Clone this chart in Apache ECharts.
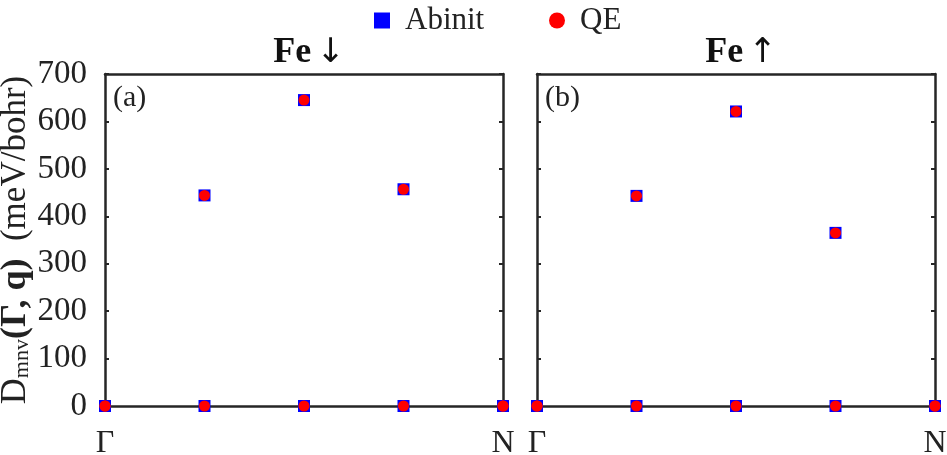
<!DOCTYPE html>
<html>
<head>
<meta charset="utf-8">
<script src="https://cdn.jsdelivr.net/npm/echarts@6/dist/echarts.min.js"></script>
<style>html,body{margin:0;padding:0;background:#fff;}#c{width:947px;height:455px;}</style>
</head>
<body>
<div id="c"></div>
<script>
// ---- data ----
const xTickLabels = { 0: 'Γ', 4: 'N' };
const qPoints = [0, 1, 2, 3, 4];
const abinitDown = [0, 444, 645, 457, 0];
const qeDown     = [0, 444, 645, 457, 0];
const abinitUp   = [0, 443, 621, 365, 0];
const qeUp       = [0, 443, 621, 365, 0];
const zeroLine   = [0, 0, 0, 0, 0];
const panelTitles = ['Fe ↓', 'Fe ↑'];
const panelTags = ['(a)', '(b)'];

function pts(ys) { return qPoints.map((x, i) => [x, ys[i]]); }

const FONT = 'Liberation Serif';
const AX = '#262626';
const grids = [
  { left: 105, top: 74, width: 398, height: 332 },
  { left: 537, top: 74, width: 398, height: 332 }
];

const xAxes = [], yAxes = [], series = [], titles = [];
grids.forEach((g, gi) => {
  xAxes.push({
    type: 'value', gridIndex: gi, min: 0, max: 4, interval: 4,
    axisLine: { show: true, onZero: false, lineStyle: { color: AX, width: 2.5 } },
    axisTick: { show: false },
    splitLine: { show: false },
    axisLabel: { margin: 22, fontFamily: FONT, fontSize: 32, color: '#222',
      formatter: v => xTickLabels[v] || '' }
  });
  xAxes.push({
    type: 'value', gridIndex: gi, position: 'top', min: 0, max: 4,
    axisLine: { show: true, onZero: false, lineStyle: { color: AX, width: 2.5 } },
    axisTick: { show: false }, axisLabel: { show: false }, splitLine: { show: false }
  });
  ['left', 'right'].forEach(pos => {
    const showLab = gi === 0 && pos === 'left';
    yAxes.push({
      type: 'value', gridIndex: gi, position: pos, min: 0, max: 700, interval: 100,
      axisLine: { show: true, onZero: false, lineStyle: { color: AX, width: 2.5 } },
      axisTick: { show: true, inside: true, length: 4, lineStyle: { color: AX, width: 2 } },
      splitLine: { show: false },
      axisLabel: { show: showLab, margin: 18, fontFamily: FONT, fontSize: 33, color: '#222' },
      name: showLab ? '{d|D}{s|mnv}{b|(Γ, q)}{n|  (meV/bohr)}' : '',
      nameLocation: 'middle', nameRotate: 90, nameGap: 70,
      nameTextStyle: {
        fontFamily: FONT, color: '#222',
        rich: {
          d: { fontFamily: FONT, fontSize: 36, color: '#222', verticalAlign: 'bottom', lineHeight: 36 },
          s: { fontFamily: FONT, fontSize: 22, color: '#222', verticalAlign: 'bottom', lineHeight: 36 },
          b: { fontFamily: FONT, fontSize: 36, fontWeight: 'bold', color: '#222', verticalAlign: 'bottom', lineHeight: 36 },
          n: { fontFamily: FONT, fontSize: 35, color: '#222', verticalAlign: 'bottom', lineHeight: 36 }
        }
      }
    });
  });
  titles.push({
    text: '{b|' + panelTitles[gi].split(' ')[0] + '} {a|' + panelTitles[gi].split(' ')[1] + '}',
    left: g.left + g.width / 2, top: 30, textAlign: 'center',
    textStyle: { rich: {
      b: { fontFamily: FONT, fontSize: 36, fontWeight: 'bold', color: '#111' },
      a: { fontFamily: 'DejaVu Sans', fontSize: 34, color: '#111', fontWeight: 'normal' }
    } }
  });
  titles.push({
    text: panelTags[gi], left: g.left + 3, top: 78,
    textStyle: { fontFamily: FONT, fontSize: 30, fontWeight: 'normal', color: '#222' }
  });
});

const panelData = [
  { ab: abinitDown, qe: qeDown },
  { ab: abinitUp, qe: qeUp }
];
panelData.forEach((p, gi) => {
  series.push({
    name: 'Abinit', type: 'scatter', xAxisIndex: gi * 2, yAxisIndex: gi * 2,
    symbol: 'rect', symbolSize: 12, itemStyle: { color: '#0000ff', opacity: 1 },
    data: pts(p.ab), z: 3
  });
  series.push({
    name: 'QE', type: 'scatter', xAxisIndex: gi * 2, yAxisIndex: gi * 2,
    symbol: 'circle', symbolSize: 11, itemStyle: { color: '#ff0000', opacity: 1 },
    data: pts(p.qe), z: 4
  });
  series.push({
    name: 'Abinit', type: 'scatter', xAxisIndex: gi * 2, yAxisIndex: gi * 2,
    symbol: 'rect', symbolSize: 12, itemStyle: { color: '#0000ff', opacity: 1 },
    data: pts(zeroLine), z: 3
  });
  series.push({
    name: 'QE', type: 'scatter', xAxisIndex: gi * 2, yAxisIndex: gi * 2,
    symbol: 'circle', symbolSize: 11, itemStyle: { color: '#ff0000', opacity: 1 },
    data: pts(zeroLine), z: 4
  });
});

const chart = echarts.init(document.getElementById('c'), null, { renderer: 'canvas' });
chart.setOption({
  animation: false,
  backgroundColor: '#fff',
  title: titles,
  legend: [
    { data: [{ name: 'Abinit', icon: 'rect' }], left: 369, top: 0, itemWidth: 16, itemHeight: 16,
      textStyle: { fontFamily: FONT, fontSize: 31, color: '#222', padding: [0, 0, 0, 10] } },
    { data: [{ name: 'QE', icon: 'circle' }], left: 544, top: 0, itemWidth: 16, itemHeight: 16,
      textStyle: { fontFamily: FONT, fontSize: 31, color: '#222', padding: [0, 0, 0, 10] } }
  ],
  grid: grids.map(g => Object.assign({ containLabel: false, outerBoundsMode: 'none' }, g)),
  xAxis: xAxes,
  yAxis: yAxes,
  series: series
});
</script>
</body>
</html>
